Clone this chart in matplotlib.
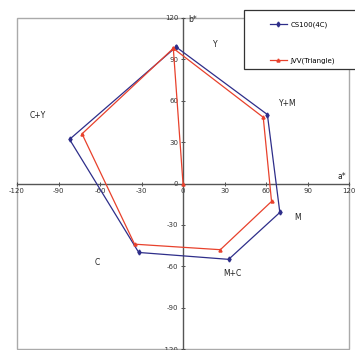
import matplotlib
matplotlib.use("Agg")
import matplotlib.pyplot as plt
from matplotlib.patches import Rectangle

# Data (a*, b*)
cs_a = [-5, 61, 70, 33, -32, -82, -5]
cs_b = [99, 50, -21, -55, -50, 32, 99]
jvv_a = [0, -7, 58, 64, 27, -35, -73, -7]
jvv_b = [0, 98, 48, -13, -48, -44, 36, 98]

region_names = ["Y", "Y+M", "M", "M+C", "C", "C+Y"]
region_a = [23, 76, 83, 36, -62, -105]
region_b = [101, 58, -25, -65, -57, 49]

ticks = [-120, -90, -60, -30, 0, 30, 60, 90, 120]
series_names = ["CS100(4C)", "JVV(Triangle)"]

W, H = 355, 350
fig = plt.figure(figsize=(W / 100, H / 100), dpi=100)
ax = fig.add_axes([17 / W, 1 / H, 332 / W, 331 / H])
ax.set_xlim(-120, 120)
ax.set_ylim(-120, 120)

axis_col = "#555555"
ax.spines["left"].set_position("zero")
ax.spines["bottom"].set_position("zero")
for s in ["top", "right"]:
    ax.spines[s].set_visible(False)
for s in ["left", "bottom"]:
    ax.spines[s].set_color(axis_col)
    ax.spines[s].set_linewidth(1.0)

ax.add_patch(Rectangle((0, 0), 1, 1, transform=ax.transAxes, fill=False,
                       edgecolor="#aaaaaa", linewidth=1.0, clip_on=False, zorder=0))

ax.set_xticks(ticks)
ax.set_yticks(ticks)
ax.set_xticklabels([str(t) for t in ticks])
ax.set_yticklabels([str(t) for t in ticks])
ax.tick_params(axis="both", labelsize=5, colors="#333333", length=2.5, width=0.6,
               direction="inout", pad=2)

ax.plot(cs_a, cs_b, color="#2e2e8a", lw=0.9, marker="d", ms=2.5, label=series_names[0], zorder=3)
ax.plot(jvv_a, jvv_b, color="#e8412c", lw=0.9, marker="^", ms=2.2, label=series_names[1], zorder=4)

for n, a, b in zip(region_names, region_a, region_b):
    ax.text(a, b, n, fontsize=5.5, ha="center", va="center", color="#222222")

ax.text(112, 2, "a*", fontsize=5.5, ha="left", va="bottom", color="#222222")
ax.text(4, 119, "b*", fontsize=5.5, ha="left", va="center", color="#222222")

# legend box extending past the right edge
box = Rectangle((244 / W, 1 - 69 / H), 0.5, 59 / H, transform=fig.transFigure,
                facecolor="white", edgecolor="#333333", linewidth=0.9, zorder=5)
fig.add_artist(box)
h, l = ax.get_legend_handles_labels()
leg = fig.legend(h, l, loc="upper left", bbox_to_anchor=(270 / W, 1 - 21 / H), fontsize=5,
                 frameon=False, borderpad=0, labelspacing=4.3, handlelength=2.4,
                 handletextpad=0.5, borderaxespad=0)
leg.set_zorder(6)

fig.savefig("out.png", dpi=100)
